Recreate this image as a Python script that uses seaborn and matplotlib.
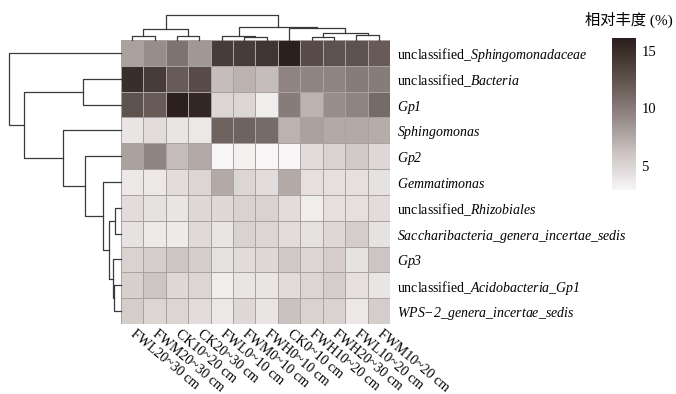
import numpy as np
import pandas as pd
import matplotlib
matplotlib.use("Agg")
import matplotlib.pyplot as plt
import matplotlib.colors as colors
import seaborn as sns

# genera, top to bottom (already in dendrogram order)
genera = [
    r"unclassified_$Sphingomonadaceae$",
    r"unclassified_$Bacteria$",
    r"$Gp1$",
    r"$Sphingomonas$",
    r"$Gp2$",
    r"$Gemmatimonas$",
    r"unclassified_$Rhizobiales$",
    r"$Saccharibacteria\_genera\_incertae\_sedis$",
    r"$Gp3$",
    r"unclassified_$Acidobacteria\_Gp1$",
    r"$WPS{-}2\_genera\_incertae\_sedis$",
]

samples = ["FWL20~30 cm", "FWM20~30 cm", "CK10~20 cm", "CK20~30 cm",
           "FWL0~10 cm", "FWM0~10 cm", "FWH0~10 cm", "CK0~10 cm",
           "FWH10~20 cm", "FWH20~30 cm", "FWL10~20 cm", "FWM10~20 cm"]

# relative abundance (%)
abundance = [
    [8.0, 9.0, 10.5, 8.5, 14.0, 14.0, 14.5, 16.0, 13.0, 12.5, 12.5, 12.0],
    [15.0, 14.0, 12.0, 13.0, 6.5, 7.0, 6.5, 9.5, 9.5, 9.5, 10.0, 10.0],
    [12.5, 12.0, 16.0, 15.5, 5.0, 5.0, 3.5, 10.0, 7.0, 9.0, 9.5, 11.0],
    [4.0, 4.5, 4.0, 3.8, 11.5, 11.5, 11.0, 7.0, 8.0, 7.5, 7.5, 7.3],
    [8.0, 9.5, 6.5, 7.5, 3.0, 3.3, 3.0, 3.0, 4.6, 5.2, 5.7, 4.9],
    [3.8, 3.8, 4.5, 5.0, 7.5, 5.0, 4.5, 7.5, 4.3, 4.3, 4.3, 4.2],
    [4.5, 4.2, 4.0, 4.8, 4.8, 5.2, 5.2, 4.5, 3.5, 4.3, 4.3, 4.5],
    [4.2, 3.7, 3.6, 4.7, 4.0, 5.2, 5.0, 4.5, 4.2, 4.8, 5.5, 4.2],
    [5.2, 5.5, 6.0, 5.5, 4.2, 4.6, 4.8, 5.8, 5.0, 5.5, 4.2, 6.0],
    [5.3, 6.0, 4.8, 5.0, 3.5, 4.0, 4.0, 4.6, 5.0, 5.5, 4.3, 4.0],
    [5.5, 5.0, 5.0, 4.5, 3.8, 4.8, 4.0, 6.2, 5.2, 5.2, 3.8, 5.5],
]

# merges (left, right, height); new cluster id = n_leaves + merge index
row_merges = [(9, 10, 6.7), (6, 7, 5.7), (8, 11, 8.3), (12, 13, 12.3),
              (5, 14, 18.3), (4, 15, 36), (3, 16, 57.7), (1, 2, 37.7),
              (18, 17, 97), (0, 19, 111.7)]
col_merges = [(5, 6, 2.7), (8, 9, 2.7), (0, 1, 4), (2, 3, 4), (4, 12, 4),
              (10, 11, 5), (13, 17, 7.3), (14, 15, 10.7), (7, 18, 11.7),
              (16, 20, 13.3), (19, 21, 25)]

plt.rcParams['font.family'] = ['Liberation Serif', 'Noto Sans CJK SC']
plt.rcParams['mathtext.fontset'] = 'custom'
plt.rcParams['mathtext.rm'] = 'Liberation Serif:italic'
plt.rcParams['mathtext.it'] = 'Liberation Serif:italic'

df = pd.DataFrame(abundance, index=genera, columns=samples)

cmap = colors.LinearSegmentedColormap.from_list(
    "greybrown", ["#f8f6f6", "#cac2c0", "#8f8482", "#5a4d4a", "#2a1f1c"])


def dendro(ax, merges, n, side):
    pos = {i: i + 0.5 for i in range(n)}
    hgt = {i: 0.0 for i in range(n)}
    for k, (a, b, h) in enumerate(merges):
        p = [pos[a], pos[a], pos[b], pos[b]]
        d = [hgt[a], h, h, hgt[b]]
        if side == 'left':
            ax.plot(d, p, color='#3a3a3a', lw=0.9, clip_on=False)
        else:
            ax.plot(p, d, color='#3a3a3a', lw=0.9, clip_on=False)
        pos[n + k] = (pos[a] + pos[b]) / 2
        hgt[n + k] = h
    ax.set_axis_off()


W, H = 676, 394
fig = plt.figure(figsize=(W / 100, H / 100), dpi=100)
ax = fig.add_axes([121 / W, 1 - 324 / H, 269 / W, 284 / H])
ax_row = fig.add_axes([9 / W, 1 - 324 / H, 112 / W, 284 / H])
ax_col = fig.add_axes([121 / W, 1 - 40 / H, 269 / W, 25 / H])
cax = fig.add_axes([612 / W, 1 - 190 / H, 24 / W, 152 / H])

sns.heatmap(df, ax=ax, cmap=cmap, vmin=2.9, vmax=16.1,
            linewidths=0.6, linecolor='#a8a2a1', cbar_ax=cax)

ax.yaxis.tick_right()
ax.set_yticklabels(genera, rotation=0, ha='left', fontsize=10)
ax.set_xticklabels(samples, rotation=-40, ha='left', va='center',
                   rotation_mode='anchor', fontsize=10)
ax.tick_params(length=0)
ax.tick_params(axis='y', pad=5)
ax.tick_params(axis='x', pad=6)
ax.set_xlabel('')
ax.set_ylabel('')

dendro(ax_row, row_merges, len(genera), 'left')
ax_row.set_ylim(len(genera), 0)
ax_row.set_xlim(112, 0)

dendro(ax_col, col_merges, len(samples), 'top')
ax_col.set_xlim(0, len(samples))
ax_col.set_ylim(0, 25)

cbar = ax.collections[0].colorbar
cbar.outline.set_visible(False)
cbar.set_ticks([5, 10, 15])
cax.tick_params(length=0, labelsize=10.5, pad=4)
fig.text(629 / W, 1 - 20 / H, "相对丰度 (%)", ha='center', va='center',
         fontsize=11)

fig.savefig('out.png', dpi=100)
